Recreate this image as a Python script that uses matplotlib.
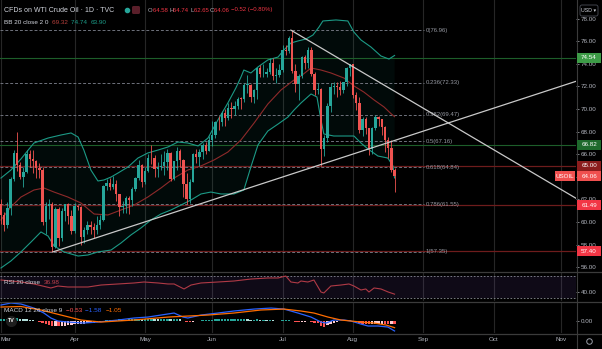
import matplotlib
matplotlib.use("Agg")
import matplotlib.pyplot as plt
from matplotlib.patches import Rectangle, FancyBboxPatch
from matplotlib.transforms import IdentityTransform

plt.rcParams['font.family'] = ['Liberation Sans', 'DejaVu Sans']

# ---- data (daily bars, Mar 1 .. Aug 19, bar index 0..123) ----
opens = [61.60, 60.64, 59.75, 61.28, 63.83, 66.09, 65.05, 64.01, 64.44, 66.02,
         65.61, 65.39, 64.80, 64.60, 60.00, 61.42, 61.55, 57.76, 61.18, 58.56,
         60.97, 61.56, 60.55, 59.16, 61.45, 61.30, 58.65, 59.33, 59.77, 59.60,
         59.32, 59.70, 60.18, 63.15, 63.46, 63.13, 63.38, 62.44, 61.35, 61.43,
         62.14, 61.91, 62.94, 63.86, 65.01, 63.58, 64.49, 65.69, 65.63, 64.71,
         64.90, 64.92, 65.28, 66.08, 63.82, 65.37, 66.27, 65.49, 63.36, 62.05,
         63.58, 66.05, 65.76, 66.21, 66.85, 66.32, 67.30, 67.72, 68.83, 68.81,
         69.62, 69.23, 70.05, 69.96, 70.29, 70.91, 70.88, 72.12, 72.15, 71.04,
         71.64, 73.66, 73.06, 73.08, 73.30, 74.05, 72.91, 72.98, 73.47, 75.23,
         75.16, 76.30, 73.37, 72.20, 72.94, 74.56, 74.10, 75.25, 73.13, 71.65,
         71.81, 66.42, 67.42, 70.30, 71.91, 72.07, 71.91, 71.65, 72.39, 73.62,
         73.95, 71.26, 70.56, 68.15, 69.09, 68.28, 66.48, 68.29, 69.25, 69.09,
         68.44, 67.29, 66.59, 64.58]
highs = [62.0, 60.9, 61.8, 64.0, 66.4, 67.98, 65.3, 64.9, 66.4, 66.4,
         66.4, 65.5, 65.2, 64.9, 61.8, 62.0, 61.8, 61.3, 61.3, 61.2,
         61.6, 61.7, 61.1, 61.7, 61.5, 61.4, 59.6, 60.1, 60.1, 59.9,
         60.5, 60.6, 63.3, 63.8, 63.9, 64.1, 63.7, 62.5, 61.9, 62.3,
         62.3, 63.1, 64.0, 65.5, 65.1, 64.9, 66.0, 66.8, 65.9, 65.3,
         66.0, 66.3, 66.5, 66.2, 65.4, 66.6, 66.5, 65.6, 64.3, 63.8,
         66.1, 66.5, 66.5, 67.0, 67.1, 67.6, 68.9, 68.9, 69.4, 69.8,
         70.0, 70.5, 70.6, 70.7, 71.1, 71.1, 72.3, 72.99, 72.2, 71.8,
         73.7, 73.9, 74.0, 73.6, 74.5, 74.5, 73.6, 74.0, 75.7, 75.7,
         76.5, 76.98, 74.0, 73.1, 74.7, 74.8, 75.5, 75.5, 73.3, 72.3,
         71.9, 67.7, 70.5, 72.3, 72.4, 72.4, 72.5, 72.4, 73.7, 74.0,
         74.0, 71.5, 71.1, 69.3, 69.3, 68.3, 68.4, 69.5, 69.4, 69.1,
         68.5, 67.5, 67.3, 64.74]
lows = [59.8, 59.2, 59.5, 60.6, 63.6, 64.5, 63.8, 63.1, 64.3, 64.9,
        64.3, 63.9, 63.9, 59.7, 58.9, 60.3, 57.35, 57.7, 57.9, 58.3,
        60.1, 59.8, 58.9, 59.0, 61.1, 58.0, 58.1, 58.9, 58.9, 58.6,
        58.9, 59.4, 60.1, 62.8, 62.8, 62.9, 61.9, 60.5, 60.8, 60.8,
        60.7, 61.4, 62.7, 63.7, 63.1, 63.4, 64.4, 65.1, 64.0, 64.0,
        64.6, 64.2, 64.6, 63.6, 63.7, 64.6, 64.9, 62.2, 61.6, 61.7,
        63.5, 65.2, 65.0, 65.6, 66.0, 66.3, 66.7, 67.4, 68.1, 68.5,
        68.5, 69.0, 69.2, 69.5, 70.0, 70.0, 70.6, 71.4, 70.6, 70.5,
        70.9, 72.8, 72.8, 72.8, 73.1, 72.6, 72.3, 72.8, 73.3, 74.8,
        75.0, 73.2, 71.5, 70.8, 72.7, 73.5, 73.6, 72.9, 71.2, 71.3,
        65.0, 65.8, 67.1, 69.7, 71.3, 71.1, 71.2, 71.4, 72.0, 72.9,
        71.0, 69.9, 67.9, 67.6, 67.8, 65.9, 66.0, 68.1, 68.5, 67.7,
        66.2, 65.7, 64.4, 62.65]
closes = [60.64, 59.75, 61.28, 63.83, 66.09, 65.05, 64.01, 64.44, 66.02, 65.61,
          65.39, 64.80, 64.60, 60.00, 61.42, 61.55, 57.76, 61.18, 58.56, 60.97,
          61.56, 60.55, 59.16, 61.45, 61.30, 58.65, 59.33, 59.77, 59.60, 59.32,
          59.70, 60.18, 63.15, 63.46, 63.13, 63.38, 62.44, 61.35, 61.43, 62.14,
          61.91, 62.94, 63.86, 65.01, 63.58, 64.49, 65.69, 65.63, 64.71, 64.90,
          64.92, 65.28, 66.08, 63.82, 65.37, 66.27, 65.49, 63.36, 62.05, 63.58,
          66.05, 65.76, 66.21, 66.85, 66.32, 67.30, 67.72, 68.83, 68.81, 69.62,
          69.23, 70.05, 69.96, 70.29, 70.91, 70.88, 72.12, 72.15, 71.04, 71.64,
          73.66, 73.06, 73.08, 73.30, 74.05, 72.91, 72.98, 73.47, 75.23, 75.16,
          76.30, 73.37, 72.20, 72.94, 74.56, 74.10, 75.25, 73.13, 71.65, 71.81,
          66.42, 67.42, 70.30, 71.91, 72.07, 71.91, 71.65, 72.39, 73.62, 73.95,
          71.26, 70.56, 68.15, 69.09, 68.28, 66.48, 68.29, 69.25, 69.09, 68.44,
          67.29, 66.59, 64.58, 64.06]

# Bollinger bands (bar index, price)
bb_up_x = [0, 3.1, 6.25, 10.3, 14.7, 18.75, 21.9, 24.1, 25.9, 28.1, 30.3, 32.2, 34.4, 36.6,
           39.7, 42.8, 45.9, 49.1, 52.2, 55.3, 58.4, 61.6, 64.7, 67.8, 70.9, 73.4, 75,
           75.9, 78.1, 80.3, 83.4, 86.6, 88.4, 90.6, 92.8, 95.3, 97.5, 99.4, 100.6,
           104.7, 108.4, 110.3, 112.5, 115.6, 118.75, 121.25, 123]
bb_up_y = [63.89, 64.60, 65.58, 66.99, 67.43, 67.70, 67.88, 67.52, 66.37, 64.60, 63.63,
           63.72, 63.98, 64.34, 64.87, 65.66, 66.11, 66.37, 66.64, 67.08, 66.99, 66.73,
           67.43, 69.03, 70.53, 71.86, 72.83, 73.45, 73.19, 73.72, 74.34, 74.60, 75.22,
           75.84, 76.02, 76.19, 76.55, 77.26, 77.79, 77.88, 77.79, 76.81, 76.11, 75.49,
           74.69, 74.42, 74.74]
bb_lo_x = [0, 3.1, 6.25, 9.4, 12.5, 14.7, 16.6, 19.7, 24.1, 27.2, 30.3, 34.4, 37.5, 40.6,
           43.75, 46.9, 50, 53.1, 56.25, 59.4, 62.5, 65.6, 68.75, 72.8, 75.9, 78.1, 80.3,
           83.4, 86.6, 89.7, 91.6, 93.75, 96.9, 98.75, 100, 100.9, 104, 107.2, 110.3,
           112.5, 114.7, 117.8, 120.9, 122.5, 123]
bb_lo_y = [55.93, 56.55, 57.35, 58.23, 59.12, 58.76, 57.88, 57.35, 56.99, 57.08, 57.35,
           57.52, 58.14, 58.85, 59.47, 60.18, 60.71, 61.06, 61.50, 61.95, 62.48, 62.65,
           62.48, 62.48, 62.83, 64.87, 66.81, 68.05, 68.67, 69.29, 69.91, 70.53, 71.33,
           71.06, 69.03, 67.79, 67.61, 67.61, 67.61, 66.99, 66.46, 65.84, 65.66, 64.96,
           63.90]
bb_mid_x = [0, 3.1, 6.25, 10.3, 13.4, 16.6, 20.9, 25, 29.1, 33.4, 37.5, 41.6, 45.9, 50,
            54.1, 58.4, 62.5, 66.6, 70.9, 75, 79.1, 83.4, 87.5, 91.6, 93.75, 96.9, 100,
            103.1, 107.2, 110.3, 113.4, 116.6, 119.7, 122, 123]
bb_mid_y = [60.18, 61.33, 62.21, 62.83, 63.01, 62.65, 62.21, 61.68, 60.71, 60.62, 61.06,
            61.50, 62.21, 63.01, 63.89, 64.60, 64.96, 65.49, 66.19, 67.26, 68.76, 70.44,
            71.68, 72.57, 72.92, 73.63, 73.45, 73.19, 72.74, 72.04, 71.50, 70.80, 70.18,
            69.56, 69.32]

# RSI(20)
rsi_x = [0, 6.25, 10.3, 15.6, 17.8, 20.9, 24.1, 27.2, 31.25, 36.6, 41.6, 44.7, 49.1, 52.2,
         54.1, 57.2, 59.4, 62.5, 67.8, 72.8, 78.1, 83.4, 86.6, 89, 90.6, 92.8, 93.75,
         95.9, 97.8, 100, 100.9, 103.1, 106.25, 108.75, 110.3, 112.5, 114, 115, 116.6,
         118.75, 121, 123]
rsi_y = [62.7, 59.1, 55.5, 48.2, 51.8, 50.0, 50.0, 50.0, 53.6, 55.5, 57.3, 59.1, 57.3, 55.5,
         55.5, 46.4, 53.6, 57.3, 59.1, 60.9, 64.5, 66.4, 66.4, 70.0, 59.1, 57.3, 60.9,
         59.1, 62.7, 40.9, 39.1, 51.8, 53.6, 55.5, 51.8, 44.5, 46.4, 40.9, 48.2, 46.4,
         40.9, 36.98]

# MACD(12, 26, 9)
macd_x = [0, 3.1, 6.25, 10.3, 13.4, 15.6, 17.8, 20.9, 25.9, 30.3, 36.6, 41.6, 45.9, 50,
          54.1, 56.9, 58.4, 62.5, 67.8, 72.8, 79.1, 84.4, 88.4, 90.6, 92.8, 96.9, 100,
          101.6, 104, 107.2, 109.4, 112.5, 114.7, 117.8, 120.9, 123]
macd_y = [2.54, 2.86, 2.70, 2.06, 1.27, 0.48, 0.0, -0.16, -0.32, -0.16, 0.16, 0.48, 0.63,
          0.95, 1.27, 0.63, 0.48, 0.95, 1.27, 1.59, 1.90, 2.06, 1.90, 1.59, 1.27, 0.63,
          -0.16, -0.32, 0.16, 0.16, 0.0, -0.48, -0.79, -0.79, -0.95, -1.58]
signal_x = [0, 6.25, 12.5, 18.75, 25, 31.25, 41.6, 52.2, 58.4, 64.7, 72.8, 81.25, 88.4,
            93.75, 97.8, 102.2, 106.25, 109.4, 112.5, 116.6, 120.3, 123]
signal_y = [2.22, 2.30, 1.75, 0.95, 0.16, -0.16, 0.16, 0.63, 0.79, 0.95, 1.27, 1.75, 1.90,
            1.59, 1.27, 0.63, 0.16, 0.0, -0.16, -0.32, -0.63, -1.05]
hist = [0.30, 0.35, 0.40, 0.45, 0.50, 0.50, 0.40, 0.30, 0.25, 0.20,
        0.10, 0.00, -0.10, -0.30, -0.50, -0.60, -0.80, -0.80, -0.85, -0.80,
        -0.75, -0.70, -0.60, -0.55, -0.50, -0.45, -0.40, -0.35, -0.30, -0.25,
        -0.20, -0.10, 0.05, 0.10, 0.15, 0.20, 0.20, 0.25, 0.20, 0.20,
        0.25, 0.30, 0.35, 0.40, 0.35, 0.35, 0.40, 0.40, 0.35, 0.30,
        0.30, 0.30, 0.35, 0.25, 0.25, 0.30, 0.25, 0.05, -0.10, -0.15,
        -0.10, 0.00, 0.05, 0.10, 0.15, 0.15, 0.20, 0.25, 0.25, 0.30,
        0.30, 0.30, 0.30, 0.30, 0.30, 0.30, 0.35, 0.30, 0.20, 0.20,
        0.25, 0.20, 0.20, 0.15, 0.15, 0.10, 0.05, 0.05, 0.10, 0.15,
        0.15, 0.00, -0.10, -0.15, -0.10, -0.10, -0.05, -0.15, -0.25, -0.30,
        -0.80, -0.90, -0.70, -0.50, -0.30, -0.15, -0.05, 0.00, 0.05, 0.10,
        -0.10, -0.20, -0.35, -0.40, -0.45, -0.55, -0.50, -0.45, -0.40, -0.40,
        -0.45, -0.50, -0.50, -0.53]

# drawings
fib_ratios = ["0", "0.236", "0.382", "0.5", "0.618", "0.786", "1"]
fib_levels = [76.96, 72.33, 69.47, 67.16, 64.84, 61.55, 57.35]
green_levels = [74.54, 66.82]
red_levels = [65.00, 61.49, 57.40]
trend_up_x, trend_up_y = [16.2, 179.7], [57.35, 72.45]
trend_dn_x, trend_dn_y = [90.6, 179.7], [76.98, 62.10]

months = ["Mar", "Apr", "May", "Jun", "Jul", "Aug", "Sep", "Oct", "Nov"]
month_idx = [0, 23, 45, 66, 88, 110, 132, 154, 175]
price_ticks = [56, 58, 60, 62, 64, 66, 68, 70, 72, 74, 76, 78]

# ---- styling ----
BG = "#000000"
GRID = "#262626"
TXT = "#b2b5be"
UP, DN = "#26a69a", "#ef5350"
BAND = "#1c9a86"

W, H = 602, 349
fig = plt.figure(figsize=(W / 100, H / 100), dpi=100)
fig.patch.set_facecolor(BG)


def px_axes(x0, y0, x1, y1):
    a = fig.add_axes([x0 / W, 1 - y1 / H, (x1 - x0) / W, (y1 - y0) / H])
    a.set_facecolor(BG)
    for s in a.spines.values():
        s.set_visible(False)
    a.set_xlim(-0.3, 179.7)
    for m in month_idx:
        a.axvline(m, color=GRID, lw=0.8, zorder=0)
    return a


ax = px_axes(0, 0, 576, 271)
ax_rsi = px_axes(0, 272, 576, 301)
ax_macd = px_axes(0, 302, 576, 333)

ax.set_ylim(55.664, 79.646)
ax_rsi.set_ylim(24.5, 77.3)
ax_macd.set_ylim(-1.90, 3.02)

# --- main pane ---
poly_x = bb_up_x + bb_lo_x[::-1]
poly_y = bb_up_y + bb_lo_y[::-1]
ax.fill(poly_x, poly_y, color=BAND, alpha=0.07, lw=0, zorder=1)
ax.plot(bb_up_x, bb_up_y, color=BAND, lw=0.8, zorder=2)
ax.plot(bb_lo_x, bb_lo_y, color=BAND, lw=0.8, zorder=2)
ax.plot(bb_mid_x, bb_mid_y, color="#8e2a2a", lw=0.8, zorder=2)

for lv in green_levels:
    ax.axhline(lv, color="#1d5e2a", lw=0.8, zorder=1.5)
for lv in red_levels:
    ax.axhline(lv, color="#6e1c1c", lw=0.9, zorder=1.5)
for r, lv in zip(fib_ratios, fib_levels):
    ax.plot([-0.3, 132.2], [lv, lv], color="#6f727c", lw=0.7, dashes=(3, 2), zorder=1.6)
    ax.text(132.8, lv, f"{r}({lv:.2f})", color="#9598a1", fontsize=4.3,
            va="center", ha="left", zorder=3)

for i, (o, h, l, c) in enumerate(zip(opens, highs, lows, closes)):
    col = UP if c >= o else DN
    ax.vlines(i, l, h, color=col, lw=0.6, zorder=3)
    ax.bar(i, max(abs(c - o), 0.06), bottom=min(o, c), width=0.72, color=col,
           lw=0, zorder=3.5)

ax.plot(trend_up_x, trend_up_y, color="#c9c9c9", lw=0.9, zorder=4)
ax.plot(trend_dn_x, trend_dn_y, color="#c9c9c9", lw=0.9, zorder=4)

ax.yaxis.tick_right()
ax.set_yticks(price_ticks)
ax.set_yticklabels([f"{v:.2f}" for v in price_ticks])
ax.tick_params(axis="y", colors=TXT, labelsize=4.5, length=2, width=0.5, pad=1.5)
ax.set_xticks([])

# --- RSI pane ---
ax_rsi.axhspan(30, 70, color="#7e57c2", alpha=0.12, lw=0, zorder=0.5)
for lv in (70, 30):
    ax_rsi.axhline(lv, color="#8a8d96", lw=0.6, dashes=(2, 2), zorder=1)
ax_rsi.plot(rsi_x, rsi_y, color="#b03a46", lw=0.8, zorder=3)
ax_rsi.yaxis.tick_right()
ax_rsi.set_yticks([40])
ax_rsi.set_yticklabels(["40.00"])
ax_rsi.tick_params(axis="y", colors=TXT, labelsize=4.5, length=2, width=0.5, pad=1.5)
ax_rsi.set_xticks([])

# --- MACD pane ---
hcols = []
for i, v in enumerate(hist):
    prev = hist[i - 1] if i else v
    if v >= 0:
        hcols.append("#26a69a" if v >= prev else "#b2dfdb")
    else:
        hcols.append("#ff5252" if v < prev else "#ffcdd2")
ax_macd.bar(range(len(hist)), hist, width=0.72, color=hcols, lw=0, zorder=2)
ax_macd.plot(macd_x, macd_y, color="#2962ff", lw=0.9, zorder=3)
ax_macd.plot(signal_x, signal_y, color="#ff6d00", lw=0.9, zorder=3)
ax_macd.yaxis.tick_right()
ax_macd.set_yticks([0])
ax_macd.set_yticklabels(["0.00"])
ax_macd.tick_params(axis="y", colors=TXT, labelsize=4.5, length=2, width=0.5, pad=1.5)
ax_macd.set_xticks(month_idx)
ax_macd.set_xticklabels(months)
ax_macd.tick_params(axis="x", colors=TXT, labelsize=4.5, length=0, pad=3)
ax_macd.get_xticklabels()[0].set_horizontalalignment("left")

# pane separators and price scale border
for yp in (271.5, 301.5, 333.5):
    fig.add_artist(plt.Line2D([0, 1], [1 - yp / H] * 2, color="#3b3b3b", lw=0.9))
fig.add_artist(plt.Line2D([576.5 / W] * 2, [0, 1], color="#3b3b3b", lw=0.8))

# --- price labels on the scale ---
fig.canvas.draw()
itf = IdentityTransform()


def price_box(val, fc, label=None, x0=577, w=24):
    yd = ax.transData.transform((0, val))[1]
    fig.add_artist(Rectangle((x0, yd - 5), w, 10, transform=itf, fc=fc, ec="none", zorder=10))
    fig.text((x0 + w / 2) / W, yd / H, label or f"{val:.2f}", color="white",
             fontsize=4.5, ha="center", va="center", zorder=11)


price_box(74.54, "#3d9b47")
price_box(66.82, "#1e6a2c")
price_box(65.00, "#8b1d1d")
price_box(61.49, "#f23645")
price_box(57.40, "#f23645")
price_box(closes[-1], "#f0504f")
price_box(closes[-1], "#f0504f", label="USOIL", x0=555, w=20)

# USD selector
fig.add_artist(FancyBboxPatch((580, H - 16), 18, 11, boxstyle="round,pad=0,rounding_size=2",
                              transform=itf, fc=BG, ec="#4a4d56", lw=0.6, zorder=10))
fig.text(589 / W, 1 - 10.5 / H, "USD ▾", color="#d1d4dc", fontsize=3.8,
         ha="center", va="center", zorder=11)

# --- legends / header texts ---
renderer = fig.canvas.get_renderer()


def seq_text(x_px, y_px, parts, size=5.0):
    for s, c in parts:
        t = fig.text(x_px / W, 1 - y_px / H, s, color=c, fontsize=size, va="center", ha="left")
        x_px += t.get_window_extent(renderer=renderer).width


seq_text(4, 10, [("CFDs on WTI Crude Oil · 1D · TVC", "#d1d4dc")], size=5.0)
fig.add_artist(plt.Line2D([127 / W], [1 - 10 / H], marker="o", ms=3, color="#26a69a", lw=0))
fig.add_artist(FancyBboxPatch((132, H - 14), 8, 8, boxstyle="round,pad=0,rounding_size=1.5",
                              transform=itf, fc="#5a1f2a", ec="none"))
red = "#f23645"
seq_text(148, 10, [("O", TXT), ("64.58 ", red), ("H", TXT), ("64.74 ", red), ("L", TXT),
                   ("62.65 ", red), ("C", TXT), ("64.06 ", red), ("\u22120.52 (\u22120.80%)", red)],
         size=4.3)
seq_text(4, 23, [("BB 20 close 2 0  ", "#d1d4dc"), ("69.32  ", "#b8403c"),
                 ("74.74  ", BAND), ("63.90", BAND)], size=4.6)
seq_text(4, 282, [("RSI 20 close  ", "#d1d4dc"), ("36.98", "#c0404c")], size=4.6)
seq_text(4, 311, [("MACD 12 26 close 9  ", "#d1d4dc"), ("\u22120.53  ", "#ff5252"),
                  ("\u22121.58  ", "#2962ff"), ("\u22121.05", "#ff6d00")], size=4.6)

# small logo and settings glyph
fig.add_artist(plt.Line2D([11 / W], [1 - 321 / H], marker="o", ms=7, color="#1e1e1e", lw=0))
fig.text(11 / W, 1 - 321 / H, "TV", color="white", fontsize=3.8, fontweight="bold",
         ha="center", va="center")
fig.add_artist(plt.Line2D([589 / W], [1 - 341 / H], marker="o", ms=4, mfc="none",
                          mec="#9a9da6", mew=0.7, lw=0))

fig.savefig("out.png", dpi=100, facecolor=BG)
